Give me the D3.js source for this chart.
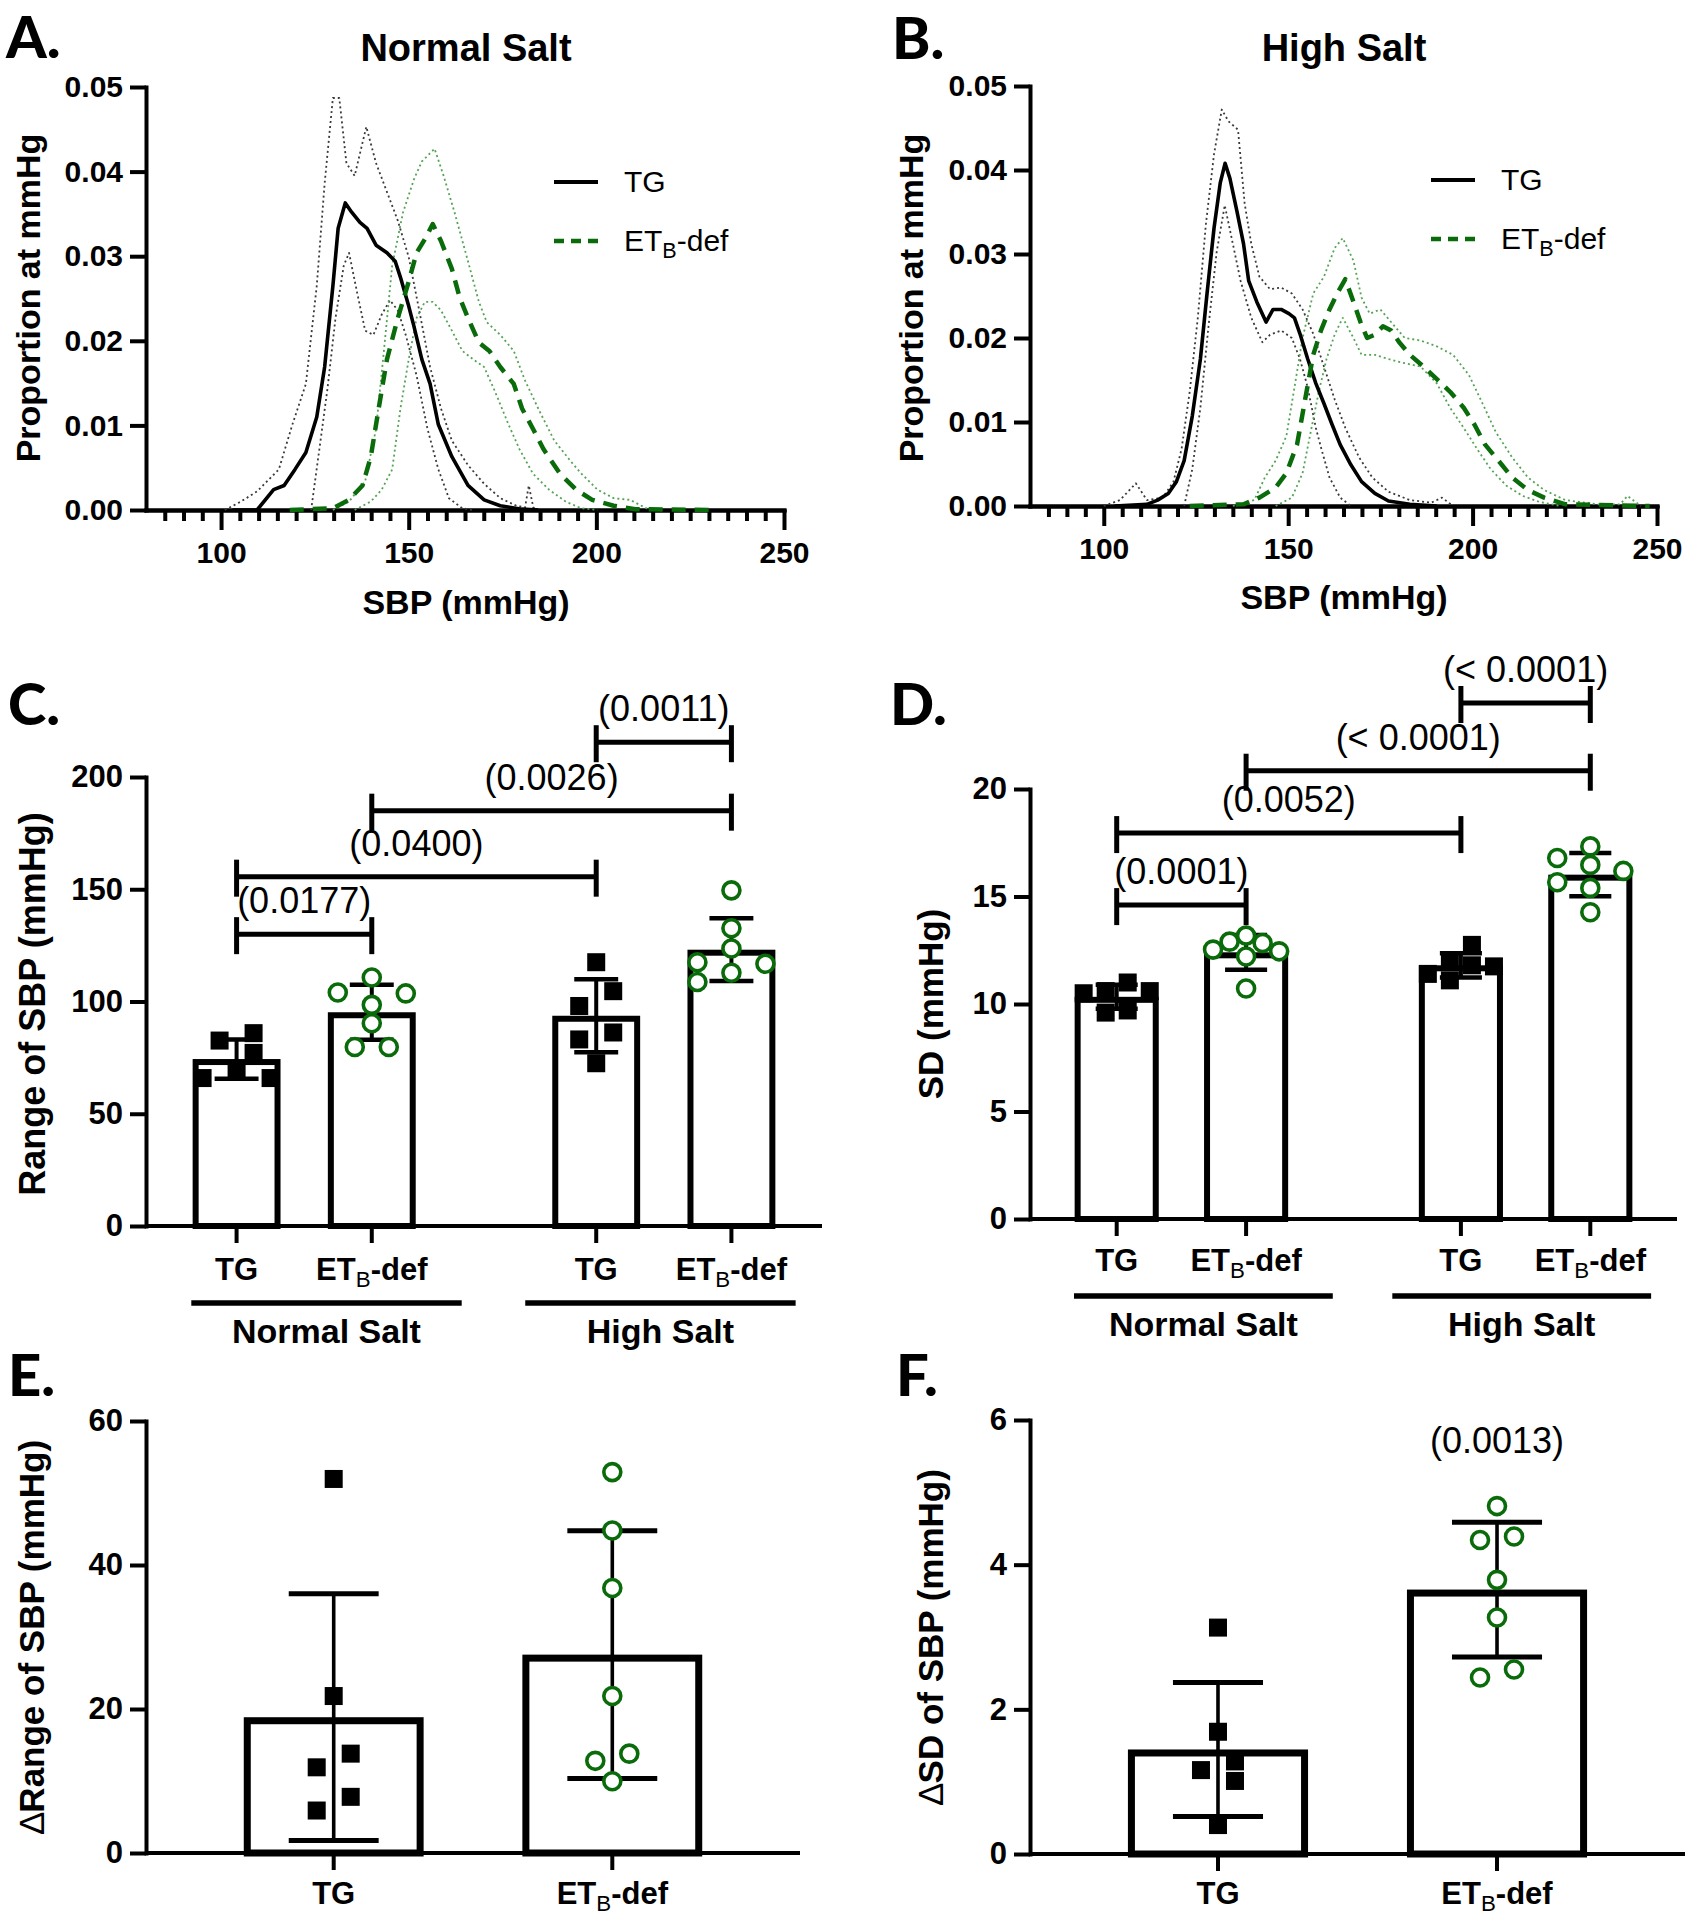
<!DOCTYPE html>
<html>
<head>
<meta charset="utf-8">
<title>SBP distribution and variability</title>
<script src="https://cdn.jsdelivr.net/npm/d3@7"></script>
<style>
  body { margin: 0; background: #fff; }
  svg text { font-family: "Liberation Sans", Arial, Helvetica, sans-serif; }
</style>
</head>
<body>
<svg id="figure" width="1689" height="1920"></svg>
<script>
// ---- values ----

// A: normal salt, [SBP, proportion]. mean curves + the dotted +/- SD curves
const nsTgMean = [[103,0],[109.6,0],[114,0.0024],[116.8,0.0029],[119.7,0.0048],[122.6,0.0068],[125.5,0.011],[127.6,0.0169],[129.8,0.0265],[131.2,0.0333],[133.1,0.0363],[134.8,0.0352],[137,0.034],[138.9,0.0333],[141.3,0.0313],[144.2,0.0304],[146.4,0.0294],[147.8,0.0275],[150,0.0241],[151.4,0.0217],[153.5,0.0178],[155.7,0.0149],[157.9,0.0101],[161.5,0.0063],[165.8,0.0029],[170.1,0.0012],[174.4,0.0005],[180.2,0.0001],[184.5,0]];
const nsTgUpper = [[101,0],[105.3,0.001],[109.6,0.0022],[115.4,0.0048],[119,0.0101],[122.6,0.0149],[125.5,0.0265],[127.6,0.0386],[129.8,0.0487],[131.5,0.0487],[133.4,0.041],[135.6,0.0395],[138.7,0.0453],[141.3,0.041],[144.2,0.0376],[147.1,0.0342],[150,0.0299],[152.8,0.0236],[155.7,0.0169],[158.6,0.012],[161.5,0.0082],[165.8,0.0053],[170.1,0.0031],[174.4,0.0014],[178.7,0.0005],[181,0.0003],[182,0.0029],[183.2,0.0003],[184.5,0]];
const nsTgLower = [[124,0],[126.2,0.0072],[128.4,0.0145],[130.5,0.0227],[132.7,0.0289],[134.1,0.0304],[136.3,0.0256],[138.4,0.0212],[140.6,0.0207],[142.8,0.0231],[145,0.0248],[147.1,0.0236],[149.2,0.0207],[152.1,0.0159],[155,0.0096],[157.9,0.0048],[160.7,0.0014],[164.3,0.0002],[167.2,0]];
const nsEtbMean = [[118.3,0],[129.8,0.0002],[134.1,0.0012],[137.7,0.0029],[139.9,0.0063],[142,0.012],[144.2,0.0178],[147.1,0.0227],[150,0.027],[152.1,0.0304],[154.3,0.032],[156.4,0.0338],[158.6,0.0318],[161.5,0.0285],[163.6,0.0251],[165.8,0.0227],[168.7,0.0198],[171.5,0.0188],[174.4,0.0169],[178,0.0149],[180.2,0.012],[183.1,0.0096],[185.9,0.0072],[190.3,0.0043],[194.6,0.0024],[198.9,0.0012],[204.6,0.0005],[210.4,0.0001],[232,0]];
const nsEtbUpper = [[129.8,0],[134.1,0.001],[138.4,0.0034],[141.3,0.0096],[143.5,0.0193],[145.6,0.0289],[148.5,0.0352],[151.4,0.0391],[153.5,0.0412],[156.9,0.0427],[159.3,0.0395],[162.2,0.0352],[165.8,0.0294],[168.7,0.0246],[170.8,0.0222],[174.4,0.0207],[178,0.0188],[180.9,0.0154],[184.5,0.012],[188.8,0.0082],[193.1,0.0058],[196,0.0043],[200.3,0.0024],[204.6,0.0014],[209,0.0012],[213.3,0.0002],[217.6,0]];
const nsEtbLower = [[135.6,0],[139.9,0.001],[142.8,0.0024],[145.6,0.0048],[147.8,0.012],[150,0.0178],[152.1,0.0227],[154.3,0.0246],[156.4,0.0246],[158.6,0.0236],[161.5,0.0212],[164.3,0.0188],[167.2,0.0178],[170.1,0.0169],[173,0.014],[176.6,0.0101],[179.5,0.0072],[183.1,0.0043],[187.4,0.0024],[191.8,0.001],[196,0.0002],[200.3,0]];

// B: high salt
const hsTgMean = [[102.9,0],[111.7,0.0002],[114.6,0.0007],[117.5,0.0015],[119.7,0.0029],[121.8,0.0054],[124,0.0107],[126.2,0.0175],[128,0.0253],[129.9,0.0331],[131.6,0.0385],[132.9,0.0408],[134.2,0.039],[136.1,0.0351],[137.9,0.0312],[139.3,0.0268],[141.5,0.0243],[144,0.0219],[145.9,0.0234],[148.1,0.0234],[150.2,0.0229],[151.7,0.0224],[153.2,0.0205],[155.3,0.0175],[157.5,0.0146],[159.7,0.0122],[161.9,0.0097],[164.1,0.0073],[167,0.0049],[169.9,0.0029],[173.5,0.0015],[177.2,0.0006],[183,0.0002],[190.3,0]];
const hsTgUpper = [[100,0],[104.4,0.0007],[108.7,0.0027],[111.7,0.0007],[116,0.001],[118.9,0.0029],[121.1,0.0068],[123.3,0.0136],[125.5,0.0224],[127.7,0.0336],[129.9,0.0419],[132,0.0472],[133.8,0.0458],[136.4,0.0448],[138.2,0.036],[140,0.0312],[142.2,0.0273],[145.1,0.0258],[148.1,0.026],[151,0.0253],[153.9,0.0234],[156.8,0.0205],[159.7,0.0166],[162.6,0.0127],[165.5,0.0093],[169.2,0.0058],[172.8,0.0034],[177.2,0.0017],[183,0.0007],[188.8,0.0004],[191.7,0.001],[194.7,0]];
const hsTgLower = [[121.8,0],[124,0.0044],[126.2,0.0117],[128.4,0.0214],[130.6,0.0302],[132.8,0.0358],[135,0.0312],[137.1,0.0268],[140,0.0224],[143,0.0195],[145.1,0.0204],[148.1,0.0209],[151,0.02],[153.2,0.0175],[155.3,0.0141],[157.5,0.0093],[159,0.0068],[161.2,0.0034],[164.1,0.001],[167,0]];
const hsEtbMean = [[123.3,0],[137.9,0.0002],[142.2,0.001],[146.6,0.0022],[149.5,0.0039],[152.4,0.0073],[154.6,0.0127],[156.8,0.018],[158.9,0.0209],[161.2,0.0234],[163.3,0.0253],[165.5,0.027],[167.7,0.0243],[169.6,0.0219],[171.4,0.02],[173.5,0.0204],[175.7,0.0214],[177.9,0.0209],[180.1,0.0195],[183,0.018],[186.7,0.0166],[190.3,0.0151],[193.9,0.0136],[197.6,0.0117],[200.5,0.0097],[203.4,0.0073],[207,0.0054],[210.7,0.0034],[215,0.0019],[219.4,0.001],[225.2,0.0002],[248,0]];
const hsEtbUpper = [[135,0],[140.8,0.0007],[143.7,0.0034],[146.6,0.0054],[149.5,0.0083],[151.7,0.0141],[153.9,0.02],[156.8,0.0253],[159.7,0.0273],[162.6,0.0307],[164.8,0.0319],[167.7,0.0292],[169.9,0.0248],[172.1,0.0229],[175,0.0234],[177.9,0.0219],[181.6,0.02],[185.9,0.0197],[190.3,0.019],[194.7,0.018],[199,0.0156],[202.7,0.0122],[206.3,0.0088],[210.7,0.0058],[215,0.0034],[219.4,0.0019],[225.2,0.0007],[234,0.0002],[240,0.0002],[242,0.0012],[245.6,0]];
const hsEtbLower = [[146.6,0],[151,0.001],[153.9,0.0039],[156.1,0.0088],[158.3,0.0136],[160.4,0.0175],[162.6,0.0204],[164.8,0.0224],[167.7,0.02],[169.9,0.018],[173.5,0.018],[177.2,0.0175],[181.6,0.017],[185.9,0.0166],[190.3,0.0146],[193.9,0.0117],[197.6,0.0093],[201.2,0.0068],[204.9,0.0044],[209.2,0.0024],[213.6,0.0012],[218,0.0005],[223.8,0]];

const proportionTicks = [0, 0.01, 0.02, 0.03, 0.04, 0.05];
const sbpMajorTicks = [100, 150, 200, 250];
const sbpMinorTicks = [85, 90, 95, 105, 110, 115, 120, 125, 130, 135, 140, 145, 155, 160, 165, 170, 175, 180, 185, 190, 195, 205, 210, 215, 220, 225, 230, 235, 240, 245];

const groups = ["Normal Salt", "High Salt"];
const genotypes = ["TG", "ETB"];

// C: range of SBP (mmHg), one value per animal
const rangeNsTg = [82.6, 85.9, 77.1, 68.8, 65.9, 65.9];
const rangeNsEtb = [110.7, 103.6, 104.0, 98.5, 90.3, 79.7, 79.7];
const rangeHsTg = [117.5, 104.6, 98.0, 86.2, 83.1, 72.5];
const rangeHsEtb = [149.5, 132.6, 117.5, 116.8, 123.6, 108.7, 112.8];
const rangeTicks = [0, 50, 100, 150, 200];
const rangePValues = [
  { from: ["Normal Salt", "TG"], to: ["Normal Salt", "ETB"], at: 130, label: "(0.0177)" },
  { from: ["Normal Salt", "TG"], to: ["High Salt", "TG"], at: 155.6, label: "(0.0400)" },
  { from: ["Normal Salt", "ETB"], to: ["High Salt", "ETB"], at: 185, label: "(0.0026)" },
  { from: ["High Salt", "TG"], to: ["High Salt", "ETB"], at: 215.5, label: "(0.0011)" }
];

// D: SD of SBP (mmHg)
const sdNsTg = [10.6, 11.0, 9.6, 10.5, 9.7, 10.6];
const sdNsEtb = [12.9, 12.45, 12.84, 13.18, 12.21, 12.53, 10.72];
const sdHsTg = [12.75, 12.0, 11.1, 11.8, 11.4, 11.75];
const sdHsEtb = [17.33, 16.19, 16.79, 15.4, 14.27, 16.47, 15.66];
const sdTicks = [0, 5, 10, 15, 20];
const sdPValues = [
  { from: ["Normal Salt", "TG"], to: ["Normal Salt", "ETB"], at: 14.6, label: "(0.0001)" },
  { from: ["Normal Salt", "TG"], to: ["High Salt", "TG"], at: 17.95, label: "(0.0052)" },
  { from: ["Normal Salt", "ETB"], to: ["High Salt", "ETB"], at: 20.85, label: "(< 0.0001)" },
  { from: ["High Salt", "TG"], to: ["High Salt", "ETB"], at: 24.0, label: "(< 0.0001)" }
];

// E, F: change from normal to high salt
const dRangeTg = [51.95, 21.8, 13.8, 11.9, 7.8, 5.9];
const dRangeEtb = [52.9, 44.8, 36.8, 21.8, 13.8, 12.8, 9.96];
const dRangeTicks = [0, 20, 40, 60];
const dSdTg = [3.13, 1.69, 1.16, 1.28, 1.01, 0.4];
const dSdEtb = [4.81, 4.34, 4.39, 3.79, 3.27, 2.44, 2.55];
const dSdTicks = [0, 2, 4, 6];
const dSdPValue = { at: 5.55, label: "(0.0013)" };

// ---- drawing ----
const svg = d3.select("#figure");
const ink = "#000";
const green = "#0a6b0a";
const paleGreen = "#55a355";
const dotGrey = "#3a3a3a";

function styleAxis(g, size) {
  g.attr("font-family", null).attr("font-size", null);
  g.select(".domain").attr("stroke", ink).attr("stroke-width", 4).attr("stroke-linecap", "square");
  g.selectAll(".tick line").attr("stroke", ink).attr("stroke-width", 4);
  g.selectAll(".tick text")
    .attr("fill", ink)
    .style("font-size", size + "px")
    .style("font-weight", "bold");
}

// "ET" + subscript B + "-def"
function etbText(sel, size) {
  sel.append("tspan").text("ET");
  sel.append("tspan")
    .attr("dy", size * 0.24)
    .style("font-size", size * 0.72 + "px")
    .style("font-weight", "normal")
    .text("B");
  sel.append("tspan").attr("dy", -size * 0.24).text("-def");
}

function panelLetter(letter, x, y) {
  svg.append("text")
    .attr("x", x).attr("y", y)
    .style("font-family", "Lato, 'Open Sans', 'Liberation Sans', sans-serif")
    .style("font-weight", "900")
    .style("font-size", "58px")
    .text(letter);
}

function yTitle(text, x, y, size, delta) {
  const t = svg.append("text")
    .attr("transform", `translate(${x},${y}) rotate(-90)`)
    .attr("text-anchor", "middle")
    .style("font-size", size + "px")
    .style("font-weight", "bold");
  if (delta) t.append("tspan").style("font-weight", "normal").text("\u2206");
  t.append("tspan").text(text);
}

function drawDistribution(cfg) {
  const x = d3.scaleLinear().domain([80, 250]).range([cfg.left, cfg.right]);
  const y = d3.scaleLinear().domain([0, 0.05]).range([cfg.bottom, cfg.top]);
  const line = d3.line().x(d => x(d[0])).y(d => y(d[1]));

  const yAxis = svg.append("g")
    .attr("transform", `translate(${cfg.left},0)`)
    .call(d3.axisLeft(y).tickValues(proportionTicks).tickFormat(d3.format(".2f"))
      .tickSize(16).tickSizeOuter(0).tickPadding(7));
  styleAxis(yAxis, 30);

  const xMinor = svg.append("g")
    .attr("transform", `translate(0,${cfg.bottom})`)
    .call(d3.axisBottom(x).tickValues(sbpMinorTicks).tickFormat("").tickSize(11).tickSizeOuter(0));
  styleAxis(xMinor, 30);
  const xMajor = svg.append("g")
    .attr("transform", `translate(0,${cfg.bottom})`)
    .call(d3.axisBottom(x).tickValues(sbpMajorTicks).tickFormat(d3.format("d"))
      .tickSize(20).tickSizeOuter(0).tickPadding(12));
  styleAxis(xMajor, 30);

  const curves = [
    { data: cfg.tgUpper, stroke: dotGrey, width: 1.8, dash: "2,3" },
    { data: cfg.tgLower, stroke: dotGrey, width: 1.8, dash: "2,3" },
    { data: cfg.etbUpper, stroke: paleGreen, width: 1.8, dash: "2,3" },
    { data: cfg.etbLower, stroke: paleGreen, width: 1.8, dash: "2,3" },
    { data: cfg.tgMean, stroke: ink, width: 3.6, dash: null },
    { data: cfg.etbMean, stroke: green, width: 4.5, dash: "14,9" }
  ];
  svg.append("g").selectAll("path")
    .data(curves)
    .join("path")
    .attr("d", d => line(d.data))
    .attr("fill", "none")
    .attr("stroke", d => d.stroke)
    .attr("stroke-width", d => d.width)
    .attr("stroke-dasharray", d => d.dash)
    .attr("stroke-linejoin", "round");

  svg.append("text")
    .attr("x", cfg.titleX).attr("y", 61)
    .attr("text-anchor", "middle")
    .style("font-size", "38px").style("font-weight", "bold")
    .text(cfg.title);

  svg.append("text")
    .attr("x", cfg.titleX).attr("y", cfg.xTitleY)
    .attr("text-anchor", "middle")
    .style("font-size", "34px").style("font-weight", "bold")
    .text("SBP (mmHg)");

  yTitle("Proportion at mmHg", cfg.yTitleX, 298, 34, false);

  // legend
  const lg = svg.append("g");
  lg.append("line")
    .attr("x1", cfg.legendX).attr("x2", cfg.legendX + 44)
    .attr("y1", cfg.legendY).attr("y2", cfg.legendY)
    .attr("stroke", ink).attr("stroke-width", 4);
  lg.append("text")
    .attr("x", cfg.legendX + 70).attr("y", cfg.legendY + 10)
    .style("font-size", "30px").text("TG");
  lg.append("line")
    .attr("x1", cfg.legendX).attr("x2", cfg.legendX + 44)
    .attr("y1", cfg.legendY + 59).attr("y2", cfg.legendY + 59)
    .attr("stroke", green).attr("stroke-width", 4.5).attr("stroke-dasharray", "10,7");
  lg.append("text")
    .attr("x", cfg.legendX + 70).attr("y", cfg.legendY + 69)
    .style("font-size", "30px")
    .call(etbText, 30);
}

// simple dot-swarm: greedy lanes, then each run of touching points is re-centred
function swarm(values, y, marker, maxStep, span) {
  const pts = values.map(v => ({ v, py: y(v), lane: 0 }));
  const order = [...pts].sort((a, b) => b.v - a.v);
  const placed = [];
  const tries = [0, -1, 1, -2, 2, -3, 3];
  order.forEach(p => {
    const k = tries.find(k => !placed.some(q => q.lane === k && Math.abs(q.py - p.py) < marker));
    p.lane = k === undefined ? 0 : k;
    placed.push(p);
  });
  let run = [];
  const flush = () => {
    const ext = d3.extent(run, d => d.lane);
    run.forEach(d => { d.lane -= (ext[0] + ext[1]) / 2; });
    run = [];
  };
  order.forEach((p, i) => {
    if (i > 0 && p.py - order[i - 1].py >= marker) flush();
    run.push(p);
  });
  flush();
  const widest = d3.max(pts, d => Math.abs(d.lane));
  const step = widest > 0 ? Math.min(maxStep, (span - marker) / (2 * widest)) : 0;
  pts.forEach(d => { d.dx = d.lane * step; });
  return pts;
}

function drawBars(cfg) {
  const w = cfg.right - cfg.left;
  const y = d3.scaleLinear().domain([0, cfg.yMax]).range([cfg.bottom, cfg.top]);
  const barW = cfg.barFrac * w;
  const sw = cfg.barStroke;
  const g = svg.append("g");

  const yAxis = g.append("g")
    .attr("transform", `translate(${cfg.left},0)`)
    .call(d3.axisLeft(y).tickValues(cfg.ticks).tickFormat(d3.format("d"))
      .tickSize(16).tickSizeOuter(0).tickPadding(7));
  styleAxis(yAxis, 31);

  g.append("line")
    .attr("x1", cfg.left).attr("x2", cfg.right)
    .attr("y1", y(0)).attr("y2", y(0))
    .attr("stroke", ink).attr("stroke-width", 4);

  cfg.items.forEach(d => {
    const cx = cfg.xOf(d);
    const m = d3.mean(d.values);
    const s = d3.deviation(d.values);

    g.append("line")
      .attr("x1", cx).attr("x2", cx)
      .attr("y1", y(0)).attr("y2", y(0) + 17)
      .attr("stroke", ink).attr("stroke-width", 4);

    g.append("rect")
      .attr("x", cx - barW / 2 + sw / 2)
      .attr("y", y(m) + sw / 2)
      .attr("width", barW - sw)
      .attr("height", y(0) - y(m) - sw / 2)
      .attr("fill", "#fff")
      .attr("stroke", ink)
      .attr("stroke-width", sw);

    g.append("line")
      .attr("x1", cx).attr("x2", cx)
      .attr("y1", y(m + s)).attr("y2", y(m - s))
      .attr("stroke", ink).attr("stroke-width", cfg.errStroke);
    [m + s, m - s].forEach(v => {
      g.append("line")
        .attr("x1", cx - barW / 4).attr("x2", cx + barW / 4)
        .attr("y1", y(v)).attr("y2", y(v))
        .attr("stroke", ink).attr("stroke-width", cfg.capStroke);
    });

    const pts = swarm(d.values, y, 18, 34, barW);
    if (d.geno === "TG") {
      g.selectAll(null).data(pts).join("rect")
        .attr("x", p => cx + p.dx - 9)
        .attr("y", p => p.py - 9)
        .attr("width", 18).attr("height", 18)
        .attr("fill", ink);
    } else {
      g.selectAll(null).data(pts).join("circle")
        .attr("cx", p => cx + p.dx)
        .attr("cy", p => p.py)
        .attr("r", 8.5)
        .attr("fill", "#fff")
        .attr("stroke", green)
        .attr("stroke-width", 3.6);
    }

    const label = g.append("text")
      .attr("x", cx).attr("y", y(0) + cfg.labelGap)
      .attr("text-anchor", "middle")
      .style("font-size", "31px").style("font-weight", "bold");
    if (d.geno === "TG") label.text("TG");
    else label.call(etbText, 31);
  });

  (cfg.pValues || []).forEach(c => {
    const x1 = cfg.xOf({ group: c.from[0], geno: c.from[1] });
    const x2 = cfg.xOf({ group: c.to[0], geno: c.to[1] });
    const yy = y(c.at);
    g.append("line")
      .attr("x1", x1).attr("x2", x2).attr("y1", yy).attr("y2", yy)
      .attr("stroke", ink).attr("stroke-width", 5);
    [x1, x2].forEach(xx => {
      g.append("line")
        .attr("x1", xx).attr("x2", xx).attr("y1", yy - 17).attr("y2", yy + 20)
        .attr("stroke", ink).attr("stroke-width", 5);
    });
    g.append("text")
      .attr("x", (x1 + x2) / 2).attr("y", yy - 21)
      .attr("text-anchor", "middle")
      .style("font-size", "36px")
      .text(c.label);
  });

  if (cfg.groupX) {
    groups.forEach((grp, i) => {
      const gc = cfg.groupX(grp) + cfg.groupShift[i] * w;
      g.append("line")
        .attr("x1", gc - 0.2 * w).attr("x2", gc + 0.2 * w)
        .attr("y1", y(0) + 77).attr("y2", y(0) + 77)
        .attr("stroke", ink).attr("stroke-width", 5.5);
      g.append("text")
        .attr("x", gc).attr("y", y(0) + 117)
        .attr("text-anchor", "middle")
        .style("font-size", "34px").style("font-weight", "bold")
        .text(grp);
    });
  }

  if (cfg.note) {
    g.append("text")
      .attr("x", cfg.xOf({ geno: "ETB" })).attr("y", y(cfg.note.at))
      .attr("text-anchor", "middle")
      .style("font-size", "36px")
      .text(cfg.note.label);
  }
}

// ---- panels A and B ----
drawDistribution({
  left: 146, right: 784, top: 87, bottom: 510,
  title: "Normal Salt", titleX: 466, xTitleY: 614, yTitleX: 40,
  legendX: 554, legendY: 182,
  tgMean: nsTgMean, tgUpper: nsTgUpper, tgLower: nsTgLower,
  etbMean: nsEtbMean, etbUpper: nsEtbUpper, etbLower: nsEtbLower
});
drawDistribution({
  left: 1030, right: 1657, top: 86, bottom: 506,
  title: "High Salt", titleX: 1344, xTitleY: 609, yTitleX: 923,
  legendX: 1431, legendY: 180,
  tgMean: hsTgMean, tgUpper: hsTgUpper, tgLower: hsTgLower,
  etbMean: hsEtbMean, etbUpper: hsEtbUpper, etbLower: hsEtbLower
});

// ---- panels C and D ----
function groupedX(left, right) {
  const w = right - left;
  const gx = d3.scalePoint().domain(groups).range([left + 0.234 * w, left + 0.766 * w]);
  const ox = d3.scalePoint().domain(genotypes).range([-0.1 * w, 0.1 * w]);
  return { gx, xOf: d => gx(d.group) + ox(d.geno) };
}

const cX = groupedX(146, 822);
drawBars({
  left: 146, right: 822, top: 777, bottom: 1226, yMax: 200, ticks: rangeTicks,
  barFrac: 0.13, barStroke: 6, errStroke: 4, capStroke: 4.5, labelGap: 54,
  xOf: cX.xOf, groupX: cX.gx, groupShift: [0.033, -0.005],
  pValues: rangePValues,
  items: [
    { group: "Normal Salt", geno: "TG", values: rangeNsTg },
    { group: "Normal Salt", geno: "ETB", values: rangeNsEtb },
    { group: "High Salt", geno: "TG", values: rangeHsTg },
    { group: "High Salt", geno: "ETB", values: rangeHsEtb }
  ]
});

const dX = groupedX(1030, 1677);
drawBars({
  left: 1030, right: 1677, top: 789, bottom: 1219, yMax: 20, ticks: sdTicks,
  barFrac: 0.13, barStroke: 6, errStroke: 4, capStroke: 4.5, labelGap: 52,
  xOf: dX.xOf, groupX: dX.gx, groupShift: [0.034, -0.006],
  pValues: sdPValues,
  items: [
    { group: "Normal Salt", geno: "TG", values: sdNsTg },
    { group: "Normal Salt", geno: "ETB", values: sdNsEtb },
    { group: "High Salt", geno: "TG", values: sdHsTg },
    { group: "High Salt", geno: "ETB", values: sdHsEtb }
  ]
});

// ---- panels E and F ----
function pairX(left, right) {
  const w = right - left;
  const px = d3.scalePoint().domain(genotypes).range([left + 0.287 * w, left + 0.713 * w]);
  return d => px(d.geno);
}

drawBars({
  left: 146, right: 800, top: 1421, bottom: 1853, yMax: 60, ticks: dRangeTicks,
  barFrac: 0.275, barStroke: 7, errStroke: 3.6, capStroke: 5, labelGap: 51,
  xOf: pairX(146, 800),
  items: [
    { geno: "TG", values: dRangeTg },
    { geno: "ETB", values: dRangeEtb }
  ]
});

drawBars({
  left: 1030, right: 1685, top: 1420, bottom: 1854, yMax: 6, ticks: dSdTicks,
  barFrac: 0.275, barStroke: 7, errStroke: 3.6, capStroke: 5, labelGap: 50,
  xOf: pairX(1030, 1685),
  note: dSdPValue,
  items: [
    { geno: "TG", values: dSdTg },
    { geno: "ETB", values: dSdEtb }
  ]
});

yTitle("Range of SBP (mmHg)", 45, 1004, 36, false);
yTitle("SD (mmHg)", 943, 1004, 35, false);
yTitle("Range of SBP (mmHg)", 44, 1637, 35, true);
yTitle("SD of SBP (mmHg)", 943, 1637, 35, true);

panelLetter("A.", 6, 58);
panelLetter("B.", 892, 59);
panelLetter("C.", 8, 725);
panelLetter("D.", 890, 725);
panelLetter("E.", 8, 1396);
panelLetter("F.", 896, 1396);
</script>
</body>
</html>
